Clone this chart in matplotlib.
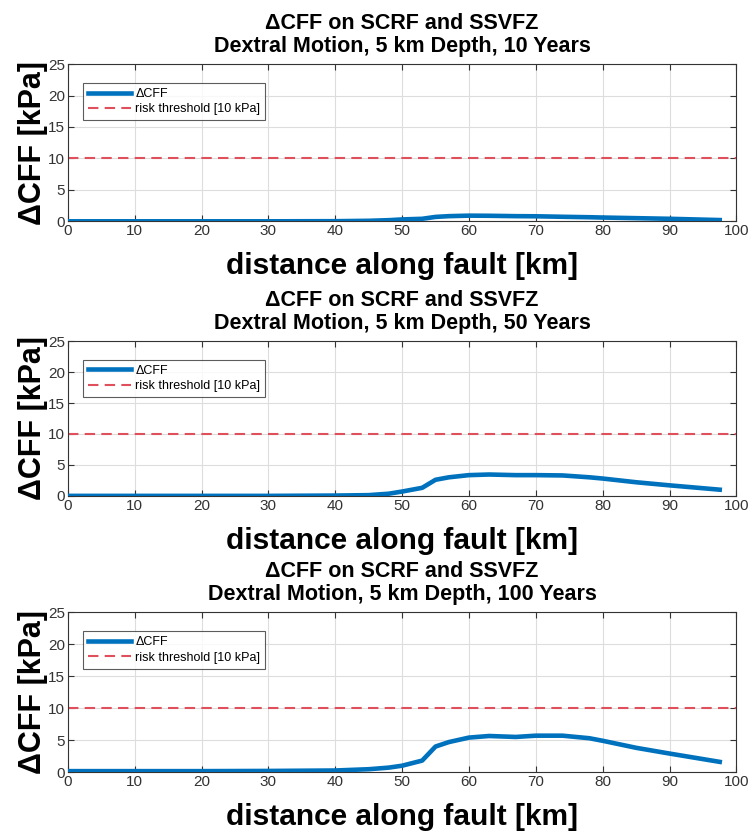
import numpy as np
import matplotlib.pyplot as plt

plt.rcParams["font.family"] = ["Liberation Sans", "DejaVu Sans"]

# distance along fault [km]
dist = [0, 10, 20, 30, 40, 45, 48, 50, 53, 55, 57, 60, 63, 67, 70, 74, 78,
        80, 85, 90, 97.5]
# delta CFF [kPa] for each time span
cff_10 = [0.0, 0.0, 0.0, 0.0, 0.02, 0.08, 0.18, 0.3, 0.4, 0.7, 0.82, 0.9,
          0.88, 0.82, 0.8, 0.72, 0.65, 0.6, 0.5, 0.4, 0.2]
cff_50 = [0.0, 0.0, 0.0, 0.0, 0.05, 0.12, 0.35, 0.7, 1.3, 2.6, 3.0, 3.35,
          3.45, 3.35, 3.35, 3.3, 3.0, 2.8, 2.2, 1.7, 1.0]
cff_100 = [0.15, 0.15, 0.15, 0.18, 0.25, 0.45, 0.7, 1.0, 1.8, 4.0, 4.7, 5.4,
           5.65, 5.5, 5.7, 5.7, 5.3, 4.9, 3.8, 2.9, 1.6]
years = [10, 50, 100]
threshold = 10

series = [cff_10, cff_50, cff_100]
positions = [[0.090, 0.734, 0.888, 0.189],
             [0.090, 0.404, 0.888, 0.186],
             [0.090, 0.072, 0.888, 0.192]]

fig = plt.figure(figsize=(7.53, 8.32), dpi=100)
for vals, yr, pos in zip(series, years, positions):
    ax = fig.add_axes(pos)
    ax.plot(dist, vals, color="#0072BD", lw=3.3, label="ΔCFF", zorder=3)
    ax.axhline(threshold, color="#E0505C", ls=(0, (5, 3)), lw=1.5,
               label="risk threshold [10 kPa]", zorder=2)
    ax.set_xlim(0, 100)
    ax.set_ylim(0, 25)
    ax.set_xticks(np.arange(0, 101, 10))
    ax.set_yticks(np.arange(0, 26, 5))
    ax.grid(True, color="#DDDDDD", lw=0.8)
    ax.set_axisbelow(True)
    ax.tick_params(direction="in", top=True, right=True, labelsize=11,
                   colors="#333333", length=4, pad=2)
    for s in ax.spines.values():
        s.set_color("#333333")
    ax.set_title(f"ΔCFF on SCRF and SSVFZ\nDextral Motion, 5 km Depth, {yr} Years",
                 fontsize=15.5, fontweight="bold", linespacing=1.12, pad=9)
    ax.set_xlabel("distance along fault [km]", fontsize=21.5, fontweight="bold",
                  labelpad=10)
    ax.set_ylabel("ΔCFF [kPa]", fontsize=22, fontweight="bold", labelpad=0)
    leg = ax.legend(loc="upper left", fontsize=9, frameon=True, fancybox=False,
                    edgecolor="#333333", handlelength=3.5, borderpad=0.4,
                    labelspacing=0.25, handletextpad=0.3,
                    bbox_to_anchor=(0.013, 0.92))
    leg.get_frame().set_linewidth(0.8)

fig.savefig("out.png", dpi=100)
